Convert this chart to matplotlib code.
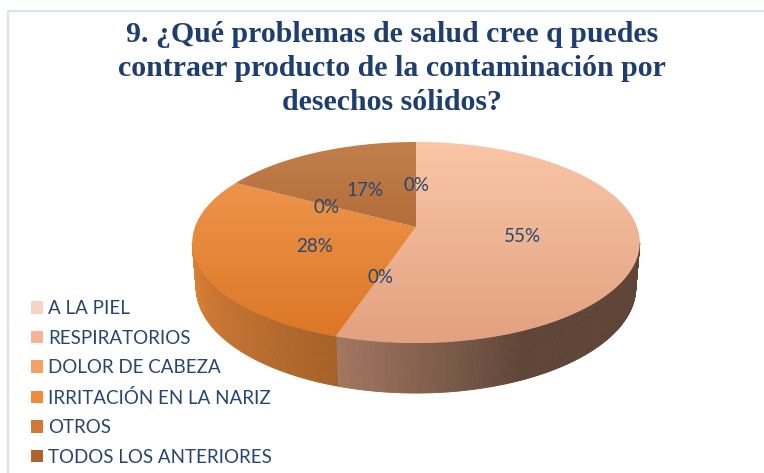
import numpy as np
import matplotlib
matplotlib.use("Agg")
import matplotlib.pyplot as plt
from matplotlib.patches import Polygon, Patch
from matplotlib.collections import PolyCollection
from matplotlib.colors import to_rgb

# ---------------- data ----------------
categories = ["A LA PIEL", "RESPIRATORIOS", "DOLOR DE CABEZA",
              "IRRITACIÓN EN LA NARIZ", "OTROS", "TODOS LOS ANTERIORES"]
values = [0, 55, 0, 28, 0, 17]
title_lines = ["9. ¿Qué problemas de salud cree q puedes",
               "contraer producto de la contaminación por",
               "desechos sólidos?"]

# ---------------- styles ----------------
legend_colors = ["#F6D2C3", "#F6B494", "#F5A163", "#EE8A3A", "#D47836", "#B0622E"]
top_light = ["#F7D6C8", "#F9C6A6", "#F7AA6C", "#F29C55", "#DB8442", "#C27F4C"]
top_dark = ["#E8BBAA", "#E2A180", "#E08A48", "#DC7624", "#B8632A", "#9E5620"]
wall_base = ["#E8C0B0", "#E6A888", "#EA9A58", "#E9893A", "#D07838", "#B86A33"]
text_color = "#27466F"
title_color = "#1F3E70"

W, H = 764, 473
fig = plt.figure(figsize=(W / 100, H / 100), dpi=100)
ax = fig.add_axes([0, 0, 1, 1])

# perspective projection of the pie disk
CX, CY = 416.0, 227.0
FOC = 1282.0
DIST = 5.8
PHI = np.arcsin(0.444)
THICK = 0.228


def proj(theta, r=1.0, z=0.0):
    x = r * np.cos(theta)
    y = r * np.sin(theta)
    up = y * np.sin(PHI) + z * np.cos(PHI)
    depth = DIST + y * np.cos(PHI) - z * np.sin(PHI)
    return CX + FOC * x / depth, CY - FOC * up / depth


vals = np.array(values, dtype=float)
frac = vals / vals.sum()
edges = np.deg2rad(90 - 360 * np.concatenate([[0], np.cumsum(frac)]))

# silhouette of the side wall
ts = np.linspace(-np.pi - 0.4, 0.4, 4000)
xs, _ = proj(ts)
thL, thR = ts[np.argmin(xs)], ts[np.argmax(xs)]


def shade(theta):
    d = np.rad2deg(theta)
    return np.interp(d, [-180, -108, -65, 0], [1.0, 0.71, 0.41, 0.41])


# ---- side walls ----
polys, cols = [], []
for i in range(len(vals)):
    a0, a1 = edges[i], edges[i + 1]
    if a0 == a1:
        continue
    for k in (-1, 0, 1):
        lo = max(a1 + 2 * np.pi * k, thL)
        hi = min(a0 + 2 * np.pi * k, thR)
        if hi <= lo:
            continue
        n = max(2, int(np.rad2deg(hi - lo) * 2))
        th = np.linspace(lo, hi, n)
        base = np.array(to_rgb(wall_base[i]))
        for j in range(n - 1):
            t0, t1 = th[j], th[j + 1]
            p = [proj(t0), proj(t1), proj(t1, z=-THICK), proj(t0, z=-THICK)]
            polys.append(p)
            cols.append(np.clip(base * shade(0.5 * (t0 + t1)), 0, 1))
wall = PolyCollection(polys, facecolors=cols, edgecolors=cols, linewidths=0.6,
                      zorder=1)
ax.add_collection(wall)

# ---- top faces with vertical gradient ----
ytop = proj(np.pi / 2)[1]
ybot = proj(-np.pi / 2)[1]
grad = np.linspace(0, 1, 256)[:, None, None]
for i in range(len(vals)):
    a0, a1 = edges[i], edges[i + 1]
    if a0 == a1:
        continue
    th = np.linspace(a0, a1, 200)
    px, py = proj(th)
    pts = np.column_stack([np.r_[CX, px], np.r_[CY, py]])
    poly = Polygon(pts, closed=True, facecolor="none", edgecolor="none",
                   transform=ax.transData, zorder=2)
    ax.add_patch(poly)
    c0 = np.array(to_rgb(top_light[i]))
    c1 = np.array(to_rgb(top_dark[i]))
    img = c0[None, None, :] * (1 - grad) + c1[None, None, :] * grad
    img = np.repeat(img, 2, axis=1)
    im = ax.imshow(img, extent=(CX - 240, CX + 240, ybot, ytop), origin="upper",
                   aspect="auto", interpolation="bilinear", zorder=2)
    im.set_clip_path(poly)

# ---- data labels ----
for i in range(len(vals)):
    mid = 0.5 * (edges[i] + edges[i + 1])
    lx, ly = proj(mid, r=0.48)
    ax.text(lx, ly + 2, f"{values[i]:.0f}%", ha="center", va="center",
            fontsize=13.5, family="Lato", color=text_color, zorder=3)

# ---- title ----
for k, line in enumerate(title_lines):
    ax.text(392, 42.5 + 33.5 * k, line, ha="center", va="baseline",
            fontsize=21.5, family="Liberation Serif", fontweight="bold",
            color=title_color, zorder=3)

# ---- chart frame ----
ax.plot([8, 8, W], [H, 11.5, 11.5], color="#D9E3F1", lw=1.6, zorder=0,
        clip_on=False)

# ---- legend ----
handles = [Patch(facecolor=c, edgecolor="none") for c in legend_colors]
leg = ax.legend(handles, categories, loc="upper left",
                bbox_to_anchor=(31 / W, 1 - 300 / H), bbox_transform=fig.transFigure,
                frameon=False, prop={"family": "Lato", "size": 13.5},
                handlelength=0.65, handleheight=0.65, handletextpad=0.25,
                labelspacing=0.67, borderpad=0, borderaxespad=0)
for t in leg.get_texts():
    t.set_color(text_color)

ax.set_xlim(0, W)
ax.set_ylim(H, 0)
ax.axis("off")

fig.savefig("out.png", dpi=100, facecolor="white")
